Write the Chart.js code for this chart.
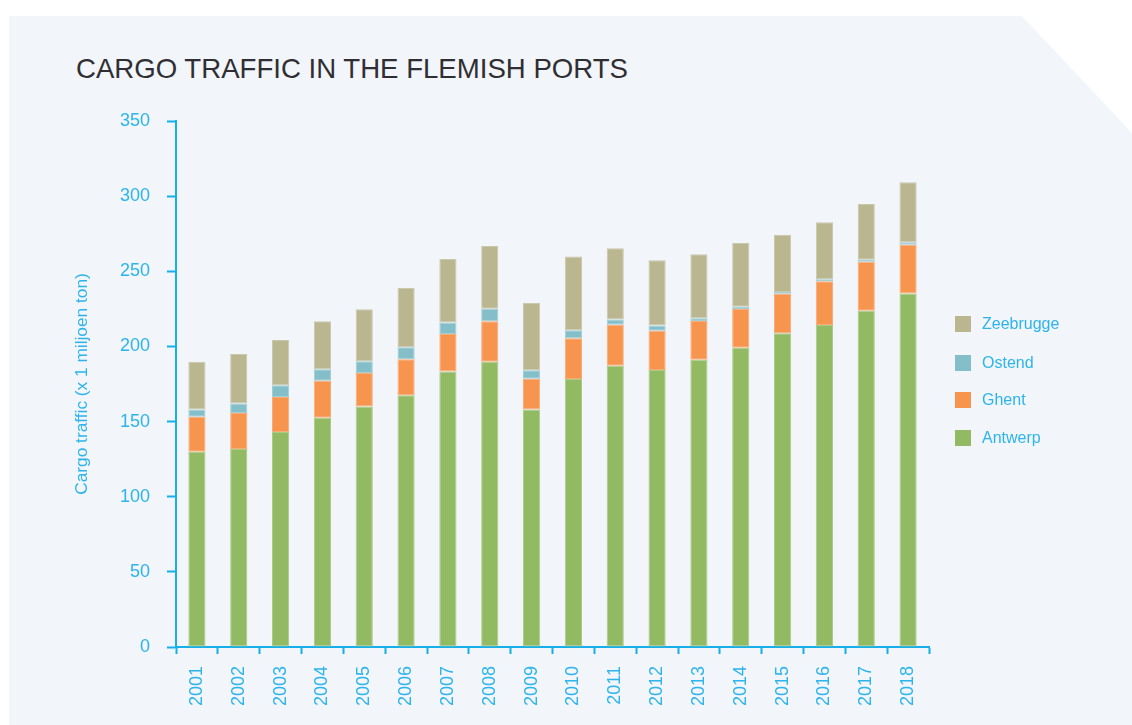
<!DOCTYPE html>
<html>
<head>
<meta charset="utf-8">
<script src="https://cdn.jsdelivr.net/npm/chart.js@4.4.1/dist/chart.umd.min.js"></script>
<style>
  html, body { margin: 0; padding: 0; background: #ffffff; }
  body { width: 1132px; height: 725px; position: relative; overflow: hidden; font-family: "Liberation Sans", Arial, sans-serif; }
  #panel { position: absolute; left: 9px; top: 16px; width: 1123px; height: 709px; background: #f2f5fa;
           clip-path: polygon(0 0, 1013px 0, 1123px 117px, 1123px 709px, 0 709px); }
  #title { position: absolute; left: 76px; top: 55px; font-size: 27.6px; line-height: 27px; color: #2f2f33; white-space: nowrap; }
  #wrap { position: absolute; left: 0; top: 0; width: 1132px; height: 725px; }
  #legend { position: absolute; left: 955px; top: 316px; }
  .li { position: absolute; left: 0; height: 16px; white-space: nowrap; }
  .sw { position: absolute; left: 0; top: 0; width: 16px; height: 16px; }
  .lt { position: absolute; left: 27px; top: -1px; font-size: 16px; line-height: 18px; color: #2db4ec; }
</style>
</head>
<body>
<div id="panel"></div>
<div id="title">CARGO TRAFFIC IN THE FLEMISH PORTS</div>
<div id="wrap"><canvas id="c" width="1132" height="725"></canvas></div>
<div id="legend"></div>
<script>
const years = ["2001","2002","2003","2004","2005","2006","2007","2008","2009","2010","2011","2012","2013","2014","2015","2016","2017","2018"];
const antwerp   = [130.0,131.7,143.0,152.6,160.1,167.5,183.4,189.8,158.1,178.3,187.2,184.3,191.2,199.1,208.7,214.2,223.8,235.3];
const ghent     = [23.2,24.0,23.3,24.6,22.2,23.9,24.9,26.9,20.4,27.1,27.3,26.2,25.7,25.8,26.4,29.1,32.6,32.4];
const ostend    = [4.9,6.4,7.8,7.6,7.8,8.0,7.7,8.4,5.6,5.3,3.5,3.5,1.8,1.5,1.1,1.4,1.3,1.6];
const zeebrugge = [31.7,32.8,30.2,31.9,34.6,39.5,42.2,41.7,44.8,49.2,47.3,43.3,42.6,42.4,38.1,37.9,37.0,39.9];
const seriesNames = ["Antwerp","Ghent","Ostend","Zeebrugge"];
const yTicks = [0,50,100,150,200,250,300,350];
const yTitle = "Cargo traffic (x 1 miljoen ton)";

const colors = ["#92ba62","#f7944e","#84bec8","#b9b690"];
const edgeColors = ["#aacb86","#f9ab75","#a2ced6","#cac8aa"];
const seriesData = [antwerp, ghent, ostend, zeebrugge];
const AXIS = "#17afe9";
const TXT = "#2db4ec";
const FONT = "'Liberation Sans', Arial, sans-serif";

const datasets = seriesNames.map((n, i) => ({
  label: n,
  data: seriesData[i],
  backgroundColor: colors[i],
  borderColor: edgeColors[i],
  borderWidth: 1,
  borderSkipped: false,
  categoryPercentage: 1.0,
  barPercentage: 0.41
}));

new Chart(document.getElementById("c"), {
  type: "bar",
  data: { labels: years, datasets },
  options: {
    responsive: false,
    animation: false,
    devicePixelRatio: 1,
    layout: { padding: { left: 63, right: 203, top: 121, bottom: 0 } },
    plugins: { legend: { display: false }, tooltip: { enabled: false }, title: { display: false } },
    scales: {
      x: {
        stacked: true,
        border: { display: true, color: AXIS, width: 2 },
        grid: { display: true, drawOnChartArea: false, drawTicks: true, tickLength: 7, tickColor: AXIS, tickWidth: 2, offset: true },
        ticks: { color: TXT, font: { family: FONT, size: 18 }, minRotation: 90, maxRotation: 90, padding: 12, autoSkip: false },
        afterFit: (s) => { s.height = 78; }
      },
      y: {
        stacked: true,
        min: 0, max: 350,
        afterBuildTicks: (s) => { s.ticks = yTicks.map(v => ({ value: v })); },
        border: { display: true, color: AXIS, width: 2 },
        grid: { display: true, drawOnChartArea: false, drawTicks: true, tickLength: 9, tickColor: AXIS, tickWidth: 2 },
        ticks: { color: TXT, font: { family: FONT, size: 18 }, padding: 17 },
        title: { display: true, text: yTitle, color: TXT, font: { family: FONT, size: 17.3 }, padding: { top: 9, bottom: 0 } },
        afterFit: (s) => { s.width = 113; }
      }
    }
  }
});

// HTML legend built from the dataset arrays (reversed order, top = Zeebrugge)
const legend = document.getElementById("legend");
const rowTops = [0, 39, 76, 114];
seriesNames.slice().reverse().forEach((n, k) => {
  const i = seriesNames.length - 1 - k;
  const li = document.createElement("div");
  li.className = "li";
  li.style.top = rowTops[k] + "px";
  li.innerHTML = '<div class="sw" style="background:' + colors[i] + '"></div><div class="lt">' + n + '</div>';
  legend.appendChild(li);
});
</script>
</body>
</html>
